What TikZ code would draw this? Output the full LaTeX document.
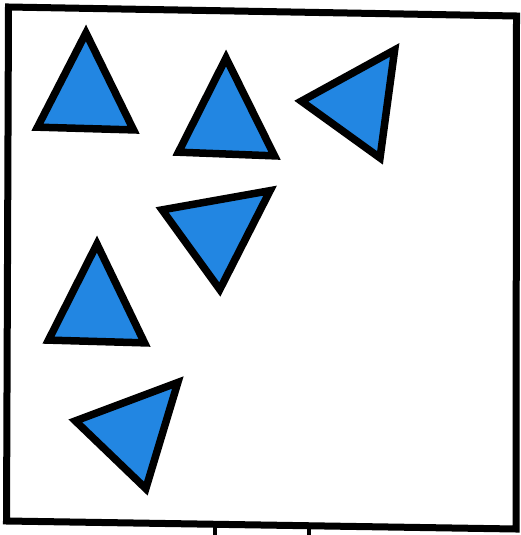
\documentclass[tikz,border=0pt]{standalone}
\usetikzlibrary{calc}
\definecolor{triblue}{RGB}{34,134,226}
\tikzset{
  tri/.style={draw=black, fill=triblue, line width=7.5pt, line join=miter},
  framebox/.style={draw=black, line width=7pt, line join=miter},
  tick/.style={draw=black, line width=4pt}
}
\newcommand\bluetri[3]{%
  \coordinate (TA) at #1;
  \coordinate (TB) at #2;
  \coordinate (TC) at #3;
  \coordinate (TG) at (barycentric cs:TA=1,TB=1,TC=1);
  \path[tri] ($(TA)!0.085!(TG)$) -- ($(TB)!0.085!(TG)$) -- ($(TC)!0.085!(TG)$) -- cycle;
}
\begin{document}
\begin{tikzpicture}[x=1pt,y=-1pt]
\useasboundingbox[fill=white] (0,0) rectangle (521,535);
% frame
\coordinate (f1) at (8.5,7);
\coordinate (f2) at (516.5,16);
\coordinate (f3) at (516,529);
\coordinate (f4) at (6.5,521);
\path[framebox] (f1) -- (f2) -- (f3) -- (f4) -- cycle;
% stand ticks
\coordinate (t1a) at (215,527);
\coordinate (t1b) at (215,536);
\coordinate (t2a) at (309,528);
\coordinate (t2b) at (309,536);
\path[tick] (t1a) -- (t1b);
\path[tick] (t2a) -- (t2b);
% triangles
\bluetri{(86,27)}{(33,130)}{(138,133)}
\bluetri{(226,52)}{(174,155)}{(279,159)}
\bluetri{(296,101)}{(398,45)}{(382,163)}
\bluetri{(157,208)}{(275,187)}{(220,295)}
\bluetri{(97,238)}{(44,343)}{(149,346)}
\bluetri{(70,420)}{(182,378)}{(147,494)}
\end{tikzpicture}
\end{document}
